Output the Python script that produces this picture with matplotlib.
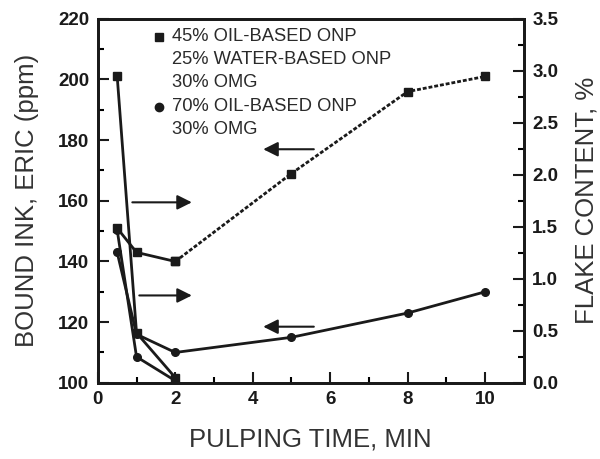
import matplotlib
matplotlib.use("Agg")
import matplotlib.pyplot as plt

plt.rcParams["font.family"] = ["Liberation Sans", "DejaVu Sans"]

# pulping time (min)
time_long = [0.5, 1, 2, 5, 8, 10]
time_short = [0.5, 1, 2]

# bound ink, ERIC (ppm) - left axis
eric_square = [151, 143, 140, 169, 196, 201]
eric_circle = [143, 116, 110, 115, 123, 130]

# flake content (%) - right axis
flake_square = [2.95, 0.48, 0.05]
flake_circle = [1.47, 0.25, 0.02]

legend_lines = ["45% OIL-BASED ONP", "25% WATER-BASED ONP", "30% OMG",
                "70% OIL-BASED ONP", "30% OMG"]

ink = "#1a1a1a"

fig = plt.figure(figsize=(6, 4.59), dpi=100)
ax = fig.add_axes([0.163, 0.166, 0.71, 0.793])
ax2 = ax.twinx()

# flake content curves
ax2.plot(time_short, flake_circle, color=ink, lw=2, marker="o", ms=5.5)
ax2.plot(time_short, flake_square, color=ink, lw=2, marker="s", ms=5.5)
ax2.set_ylim(0, 3.5)

# ERIC curves (square series: solid to 2 min, dotted afterwards)
ax.plot(time_long, eric_circle, color=ink, lw=2, marker="o", ms=5.5, zorder=3)
ax.plot(time_long[:3], eric_square[:3], color=ink, lw=2,
        marker="s", ms=5.5, zorder=3)
ax.plot(time_long[2:], eric_square[2:], color=ink, lw=2, ls=(0, (1.4, 0.7)),
        marker="s", ms=5.5, zorder=3)
ax.set_zorder(ax2.get_zorder() + 1)
ax.patch.set_visible(False)

ax.set_xlim(0, 11)
ax.set_ylim(100, 220)
ax.set_xticks([0, 2, 4, 6, 8, 10])
ax.set_xticks([1, 3, 5, 7, 9], minor=True)
ax.set_yticks(range(100, 221, 20))
ax.set_yticks(range(110, 220, 20), minor=True)
ax2.set_yticks([0, 0.5, 1, 1.5, 2, 2.5, 3, 3.5])
ax2.set_yticks([0.25, 0.75, 1.25, 1.75, 2.25, 2.75, 3.25], minor=True)
ax2.set_yticklabels(["0.0", "0.5", "1.0", "1.5", "2.0", "2.5", "3.0", "3.5"])

for a in (ax, ax2):
    a.tick_params(which="major", direction="in", length=8, width=1.5,
                  labelsize=13.5, colors=ink)
    a.tick_params(which="minor", direction="in", length=4.5, width=1.5)
    for s in a.spines.values():
        s.set_linewidth(2)
        s.set_color(ink)
    for lab in a.get_xticklabels() + a.get_yticklabels():
        lab.set_fontweight("bold")
ax.tick_params(axis="y", right=False, pad=6)
ax.tick_params(axis="x", top=False, pad=6)
ax2.tick_params(axis="y", pad=6)

ax.set_xlabel("PULPING TIME, MIN", fontsize=18.5, color="#333333", labelpad=14)
ax.set_ylabel("BOUND INK, ERIC (ppm)", fontsize=18.5, color="#333333", labelpad=14)
ax2.set_ylabel("FLAKE CONTENT, %", fontsize=18.5, color="#333333", labelpad=12)

# arrows pointing to the axis each curve belongs to
arrow = dict(arrowstyle="-|>", color=ink, lw=1.5, mutation_scale=22)
ax.annotate("", xy=(4.2, 177), xytext=(5.65, 177), arrowprops=arrow)
ax.annotate("", xy=(4.2, 118.5), xytext=(5.65, 118.5), arrowprops=arrow)
ax.annotate("", xy=(2.5, 159.5), xytext=(0.82, 159.5), arrowprops=arrow)
ax.annotate("", xy=(2.5, 128.8), xytext=(1.0, 128.8), arrowprops=arrow)

# legend
ys = [0.951, 0.887, 0.824, 0.758, 0.695]
for y, t in zip(ys, legend_lines):
    ax.text(0.174, y, t, transform=ax.transAxes, fontsize=13.2,
            color="#2a2a2a", va="center", ha="left")
ax.plot([0.143], [ys[0]], marker="s", ms=6, color=ink, transform=ax.transAxes)
ax.plot([0.143], [ys[3]], marker="o", ms=6, color=ink, transform=ax.transAxes)

fig.savefig("out.png", dpi=100)
